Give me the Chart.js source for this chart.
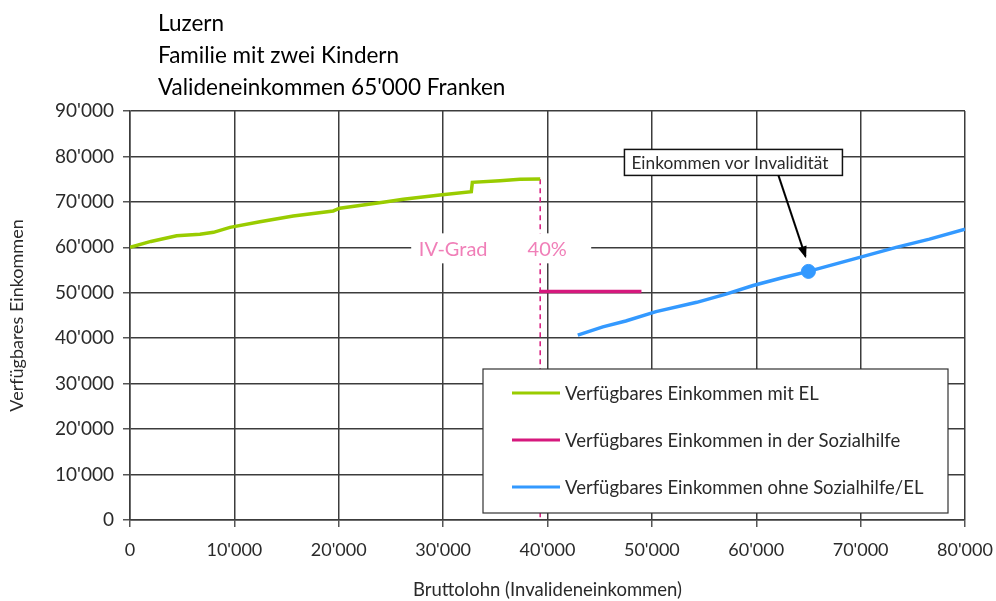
<!DOCTYPE html>
<html><head><meta charset="utf-8">
<script src="https://cdn.jsdelivr.net/npm/chart.js@4.4.1/dist/chart.umd.min.js"></script>
<style>html,body{margin:0;padding:0;background:#fff}#wrap{width:996px;height:601px}</style>
</head><body><div id="wrap"><canvas id="c" width="996" height="601"></canvas></div>
<script>
const titleLines = ['Luzern', 'Familie mit zwei Kindern', "Valideneinkommen 65'000 Franken"];
const seriesLabels = ['Verfügbares Einkommen mit EL', 'Verfügbares Einkommen in der Sozialhilfe', 'Verfügbares Einkommen ohne Sozialhilfe/EL'];
const xAxisTitle = 'Bruttolohn (Invalideneinkommen)';
const yAxisTitle = 'Verfügbares Einkommen';

const greenX = [0, 2000, 4470, 6700, 8000, 9580, 12450, 15640, 19470, 20100, 22000, 24590, 26180, 29700, 32700, 32800, 35440, 37360, 39300];
const greenY = [60000, 61300, 62560, 62870, 63300, 64400, 65650, 66900, 68000, 68600, 69200, 70050, 70580, 71520, 72250, 74300, 74670, 74970, 75050];

const pinkX = [39200, 49000];
const pinkY = [50300, 50300];

const blueX = [42900, 45300, 47500, 50400, 54300, 57100, 59700, 62500, 65000, 69300, 73400, 76600, 80000];
const blueY = [40700, 42500, 43800, 45850, 47900, 49700, 51600, 53300, 54700, 57400, 60000, 61800, 64000];

const ivX = [39300, 39300];
const ivY = [75000, 0];
const ivTexts = ['IV-Grad', '40%'];

const markerX = [65000];
const markerY = [54700];
const markerText = 'Einkommen vor Invalidität';

const xMin = 0, xMax = 80000, xStep = 10000;
const yMin = 0, yMax = 90000, yStep = 10000;

const GREEN = '#99cc00', PINK = '#d6187d', BLUE = '#3399ff', IVPINK = '#f07fb8';
const FONT = 'Lato, "Open Sans", sans-serif';
const TXT = '#2a2a2a';

function pts(xs, ys) { return xs.map((x, i) => ({x: x, y: ys[i]})); }
function fmt(v) { return String(v).replace(/\B(?=(\d{3})+(?!\d))/g, "'"); }

const overlay = {
  id: 'overlay',
  afterDatasetsDraw(chart) {
    const ctx = chart.ctx;
    const xs = chart.scales.x, ys = chart.scales.y;
    ctx.save();
    // IV-Grad label box
    const lx = xs.getPixelForValue(ivX[0]);
    const ly = ys.getPixelForValue(60000);
    ctx.fillStyle = '#fff';
    ctx.fillRect(lx - 129, ly - 14, 180, 30);
    ctx.font = '20px ' + FONT;
    ctx.fillStyle = IVPINK;
    ctx.textBaseline = 'middle';
    ctx.textAlign = 'center';
    ctx.fillText(ivTexts[0], lx - 87, ly + 2);
    ctx.fillText(ivTexts[1], lx + 7, ly + 2);

    // annotation box
    const mx = xs.getPixelForValue(markerX[0]);
    const my = ys.getPixelForValue(markerY[0]);
    const bx = mx - 184, by = my - 122, bw = 218, bh = 26;
    ctx.fillStyle = '#fff';
    ctx.fillRect(bx, by, bw, bh);
    ctx.strokeStyle = '#111';
    ctx.lineWidth = 1.5;
    ctx.strokeRect(bx, by, bw, bh);
    ctx.fillStyle = TXT;
    ctx.textAlign = 'left';
    ctx.font = '17.3px ' + FONT;
    ctx.fillText(markerText, bx + 7, by + bh / 2 + 1);
    // arrow
    const ax0 = mx - 30, ay0 = by + bh, ax1 = mx - 3, ay1 = my - 15;
    ctx.beginPath();
    ctx.moveTo(ax0, ay0); ctx.lineTo(ax1, ay1);
    ctx.strokeStyle = '#000'; ctx.lineWidth = 2; ctx.stroke();
    const ang = Math.atan2(ay1 - ay0, ax1 - ax0);
    ctx.beginPath();
    ctx.moveTo(ax1 + 2 * Math.cos(ang), ay1 + 2 * Math.sin(ang));
    ctx.lineTo(ax1 - 10 * Math.cos(ang) + 4.5 * Math.sin(ang), ay1 - 10 * Math.sin(ang) - 4.5 * Math.cos(ang));
    ctx.lineTo(ax1 - 10 * Math.cos(ang) - 4.5 * Math.sin(ang), ay1 - 10 * Math.sin(ang) + 4.5 * Math.cos(ang));
    ctx.closePath(); ctx.fillStyle = '#000'; ctx.fill();

    // legend
    const Lx = 483, Ly = 369, Lw = 465, Lh = 144;
    ctx.fillStyle = '#fff';
    ctx.fillRect(Lx, Ly, Lw, Lh);
    ctx.strokeStyle = '#333'; ctx.lineWidth = 1.2;
    ctx.strokeRect(Lx, Ly, Lw, Lh);
    const ds = chart.data.datasets;
    ctx.font = '18.5px ' + FONT;
    for (let i = 0; i < 3; i++) {
      const ry = Ly + 24 + i * 47;
      ctx.beginPath();
      ctx.moveTo(Lx + 29, ry); ctx.lineTo(Lx + 77, ry);
      ctx.strokeStyle = ds[i].borderColor; ctx.lineWidth = 3; ctx.stroke();
      ctx.fillStyle = TXT; ctx.textAlign = 'left';
      ctx.fillText(ds[i].label, Lx + 82, ry + 1);
    }

    // title
    ctx.fillStyle = '#000';
    ctx.font = '22.5px ' + FONT;
    ctx.textAlign = 'left';
    titleLines.forEach((t, i) => ctx.fillText(t, 158, 24 + i * 32));
    ctx.restore();
  }
};

const gridOpts = { color: '#3c3c3c', lineWidth: 1.5, tickLength: 7, tickColor: '#555' };

new Chart(document.getElementById('c'), {
  type: 'line',
  data: {
    datasets: [
      { label: seriesLabels[0], data: pts(greenX, greenY), borderColor: GREEN, backgroundColor: GREEN, borderWidth: 3.5, pointRadius: 0, tension: 0, order: 2 },
      { label: seriesLabels[1], data: pts(pinkX, pinkY), borderColor: PINK, backgroundColor: PINK, borderWidth: 3.5, pointRadius: 0, tension: 0, order: 2 },
      { label: seriesLabels[2], data: pts(blueX, blueY), borderColor: BLUE, backgroundColor: BLUE, borderWidth: 3.5, pointRadius: 0, tension: 0, order: 2 },
      { label: 'IV-Grad', data: pts(ivX, ivY), borderColor: PINK, borderWidth: 1.5, borderDash: [5, 4], pointRadius: 0, order: 3 },
      { label: markerText, data: pts(markerX, markerY), showLine: false, pointRadius: 7, pointBackgroundColor: BLUE, pointBorderColor: BLUE, borderColor: BLUE, order: 1 }
    ]
  },
  options: {
    responsive: false,
    animation: false,
    layout: { padding: { left: 0, top: 111, right: 31, bottom: 0 } },
    plugins: { legend: { display: false }, tooltip: { enabled: false }, title: { display: false } },
    scales: {
      x: {
        type: 'linear', min: xMin, max: xMax,
        ticks: { stepSize: xStep, color: TXT, font: { family: FONT, size: 18 }, padding: 12, maxRotation: 0, callback: v => fmt(v) },
        grid: gridOpts,
        border: { color: '#3c3c3c', width: 1.5 },
        title: { display: true, text: xAxisTitle, color: TXT, font: { family: FONT, size: 18.5 }, padding: { top: 0, bottom: 0 } },
        afterFit: a => { a.height = 81; a.paddingLeft = 0; a.paddingRight = 0; }
      },
      y: {
        type: 'linear', min: yMin, max: yMax,
        ticks: { stepSize: yStep, color: TXT, font: { family: FONT, size: 19 }, padding: 9, callback: v => fmt(v) },
        grid: gridOpts,
        border: { color: '#3c3c3c', width: 1.5 },
        title: { display: true, text: yAxisTitle, color: TXT, font: { family: FONT, size: 18 }, padding: { top: 6, bottom: 0 } },
        afterFit: a => { a.width = 130; a.paddingTop = 0; a.paddingBottom = 0; }
      }
    }
  },
  plugins: [overlay]
});
</script>
</body></html>
